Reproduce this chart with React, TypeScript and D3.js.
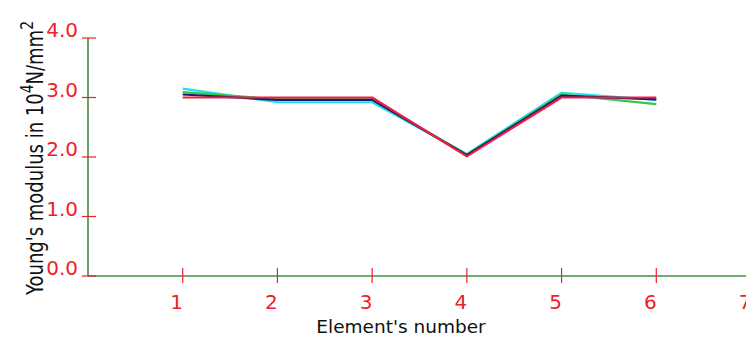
import React from 'react';
import * as d3 from 'd3';

const elements = [1, 2, 3, 4, 5, 6];
const xTicks = [1, 2, 3, 4, 5, 6, 7];
const yTicks = [0, 1, 2, 3, 4];

const cyanSeries = [3.15, 2.92, 2.92, 2.05, 3.08, 2.96];
const greenSeries = [3.09, 2.97, 2.97, 2.04, 3.05, 2.89];
const blueSeries = [3.05, 2.96, 2.96, 2.03, 3.03, 2.97];
const redSeries = [3.0, 3.0, 3.0, 2.01, 3.0, 3.0];

const series = [
  { name: 'cyan', color: '#22e0e8', values: cyanSeries },
  { name: 'green', color: '#2ec84a', values: greenSeries },
  { name: 'blue', color: '#1a1a7a', values: blueSeries },
  { name: 'red', color: '#f0203c', values: redSeries },
];

const axisColor = '#3f8f3f';
const tickColor = '#f0202a';
const font = 'Verdana, "DejaVu Sans", sans-serif';

export default function App() {
  const width = 746;
  const height = 337;
  const x = d3.scaleLinear().domain([0, 7]).range([88, 751]);
  const y = d3.scaleLinear().domain([0, 4]).range([276, 38]);

  const line = d3
    .line<number>()
    .x((d, i) => x(elements[i]))
    .y((d) => y(d));

  return (
    <svg
      width={width}
      height={height}
      style={{ position: 'absolute', left: 0, top: 0, background: '#fff' }}
    >
      {/* axes */}
      <line x1={x(0)} x2={x(0)} y1={y(4)} y2={y(0)} stroke={axisColor} strokeWidth={1.6} />
      <line x1={x(0)} x2={width} y1={y(0)} y2={y(0)} stroke={axisColor} strokeWidth={1.6} />

      {yTicks.map((t) => (
        <g key={'y' + t}>
          <line x1={x(0) - 6} x2={x(0) + 8} y1={y(t)} y2={y(t)} stroke={tickColor} strokeWidth={1.2} />
          <text
            x={x(0) - 10}
            y={y(t) - 1}
            textAnchor="end"
            fill={tickColor}
            fontFamily={font}
            fontSize={20}
          >
            {t.toFixed(1)}
          </text>
        </g>
      ))}

      {xTicks.map((t) => (
        <g key={'x' + t}>
          <line x1={x(t)} x2={x(t)} y1={y(0) - 8} y2={y(0) + 7} stroke={tickColor} strokeWidth={1.2} />
          <text
            x={x(t) - 6}
            y={y(0) + 33}
            textAnchor="middle"
            fill={tickColor}
            fontFamily={font}
            fontSize={20}
          >
            {t}
          </text>
        </g>
      ))}

      {series.map((s) => (
        <path
          key={s.name}
          d={line(s.values) || ''}
          fill="none"
          stroke={s.color}
          strokeWidth={2.2}
          strokeLinejoin="round"
        />
      ))}

      <text
        x={401}
        y={333}
        textAnchor="middle"
        fill="#111"
        fontFamily={font}
        fontSize={18.5}
      >
        Element's number
      </text>

      <text
        transform="translate(43,158) rotate(-90) scale(1,1.25)"
        textAnchor="middle"
        fill="#111"
        fontFamily={font}
        fontSize={18}
      >
        Young's modulus in 10
        <tspan dy={-8} fontSize={14}>4</tspan>
        <tspan dy={8}>N/mm</tspan>
        <tspan dy={-8} fontSize={14}>2</tspan>
      </text>
    </svg>
  );
}
